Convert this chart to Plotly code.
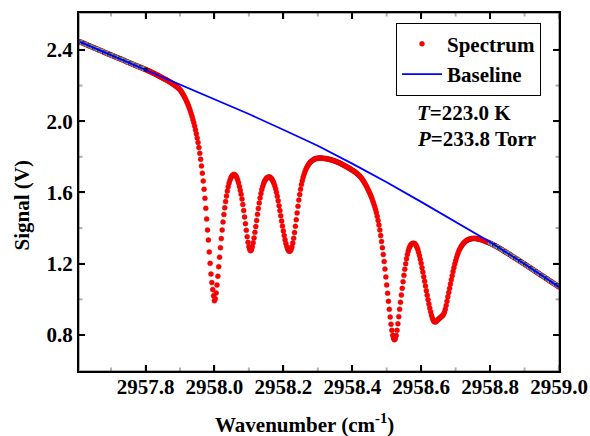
import numpy as np
import plotly.graph_objects as go

# ---------------- data ----------------
WN_START = 2957.61      # first wavenumber sample (cm-1)
WN_STEP = 0.0025        # sampling step (cm-1)

# Spectrum signal (V), consecutive samples, split by region
sig_2957_6 = [2.445, 2.443, 2.441, 2.439, 2.437, 2.435, 2.433, 2.431, 2.429, 2.426,
              2.424, 2.422, 2.420, 2.418, 2.416, 2.414, 2.412, 2.410, 2.408, 2.406,
              2.404, 2.402, 2.400, 2.398, 2.396, 2.394, 2.392, 2.390, 2.387, 2.385,
              2.383, 2.381, 2.379, 2.377, 2.375, 2.373, 2.371, 2.369, 2.367, 2.365,
              2.363, 2.361, 2.359, 2.357, 2.355, 2.353, 2.351, 2.349, 2.347, 2.345,
              2.343, 2.341, 2.339, 2.336, 2.334, 2.332, 2.330, 2.328, 2.326, 2.324,
              2.322, 2.320, 2.318, 2.316, 2.314, 2.312, 2.310, 2.308, 2.306, 2.304,
              2.302, 2.300, 2.298, 2.296, 2.294, 2.292, 2.290]
sig_2957_8 = [2.288, 2.286, 2.283, 2.281, 2.279, 2.277, 2.274, 2.272, 2.270, 2.268,
              2.265, 2.263, 2.260, 2.258, 2.255, 2.252, 2.250, 2.247, 2.245, 2.242,
              2.240, 2.237, 2.235, 2.232, 2.229, 2.227, 2.224, 2.221, 2.218, 2.215,
              2.211, 2.208, 2.205, 2.201, 2.198, 2.194, 2.190, 2.186, 2.182, 2.177,
              2.170, 2.163, 2.155, 2.147, 2.138, 2.129, 2.119, 2.108, 2.097, 2.085,
              2.072, 2.058, 2.043, 2.027, 2.010, 1.992, 1.973, 1.952, 1.930, 1.906,
              1.880, 1.852, 1.820, 1.786, 1.749, 1.708, 1.664, 1.618, 1.567, 1.511,
              1.451, 1.389, 1.333, 1.266, 1.202, 1.142, 1.094, 1.055, 1.020, 0.992]
sig_2958_0 = [1.004, 1.036, 1.080, 1.130, 1.183, 1.237, 1.290, 1.341, 1.389, 1.434,
              1.476, 1.514, 1.549, 1.580, 1.608, 1.632, 1.652, 1.668, 1.681, 1.690,
              1.696, 1.700, 1.701, 1.698, 1.692, 1.683, 1.670, 1.654, 1.634, 1.612,
              1.590, 1.563, 1.532, 1.498, 1.462, 1.425, 1.388, 1.352, 1.320, 1.295,
              1.280, 1.273, 1.279, 1.295, 1.318, 1.345, 1.376, 1.409, 1.443, 1.477,
              1.510, 1.541, 1.569, 1.594, 1.616, 1.634, 1.649, 1.661, 1.670, 1.677,
              1.682, 1.685, 1.686, 1.686, 1.684, 1.679, 1.672, 1.663, 1.652, 1.638,
              1.621, 1.601, 1.578, 1.553, 1.526, 1.498, 1.469, 1.440, 1.411, 1.384]
sig_2958_2 = [1.358, 1.334, 1.313, 1.296, 1.283, 1.274, 1.270, 1.272, 1.280, 1.295,
              1.316, 1.343, 1.375, 1.410, 1.447, 1.485, 1.522, 1.557, 1.589, 1.618,
              1.644, 1.666, 1.685, 1.701, 1.715, 1.727, 1.738, 1.747, 1.755, 1.762,
              1.768, 1.773, 1.777, 1.781, 1.784, 1.787, 1.789, 1.790, 1.791, 1.792,
              1.793, 1.793, 1.793, 1.793, 1.792, 1.792, 1.791, 1.790, 1.790, 1.789,
              1.788, 1.787, 1.786, 1.785, 1.784, 1.782, 1.781, 1.779, 1.778, 1.776,
              1.774, 1.772, 1.770, 1.768, 1.766, 1.763, 1.761, 1.758, 1.756, 1.753,
              1.751, 1.748, 1.745, 1.743, 1.740, 1.737, 1.734, 1.731, 1.728, 1.725]
sig_2958_4 = [1.722, 1.719, 1.716, 1.712, 1.708, 1.704, 1.700, 1.695, 1.690, 1.684,
              1.678, 1.671, 1.664, 1.656, 1.648, 1.639, 1.630, 1.620, 1.610, 1.600,
              1.589, 1.577, 1.564, 1.550, 1.536, 1.521, 1.505, 1.487, 1.466, 1.443,
              1.417, 1.389, 1.358, 1.325, 1.290, 1.252, 1.212, 1.170, 1.126, 1.081,
              1.035, 0.989, 0.944, 0.901, 0.861, 0.826, 0.798, 0.780, 0.773, 0.779,
              0.797, 0.826, 0.863, 0.903, 0.944, 0.984, 1.024, 1.062, 1.099, 1.135,
              1.169, 1.200, 1.228, 1.252, 1.271, 1.287, 1.298, 1.306, 1.311, 1.314,
              1.315, 1.314, 1.311, 1.304, 1.294, 1.281, 1.265, 1.246, 1.225, 1.202]
sig_2958_6 = [1.178, 1.153, 1.127, 1.101, 1.075, 1.049, 1.023, 0.998, 0.974, 0.951,
              0.930, 0.911, 0.895, 0.883, 0.876, 0.873, 0.874, 0.878, 0.883, 0.888,
              0.893, 0.897, 0.901, 0.905, 0.910, 0.917, 0.928, 0.945, 0.966, 0.990,
              1.014, 1.038, 1.062, 1.086, 1.110, 1.133, 1.156, 1.178, 1.198, 1.217,
              1.234, 1.249, 1.262, 1.274, 1.284, 1.293, 1.301, 1.308, 1.314, 1.319,
              1.324, 1.328, 1.331, 1.334, 1.336, 1.338, 1.339, 1.340, 1.341, 1.342,
              1.342, 1.342, 1.342, 1.341, 1.340, 1.339, 1.338, 1.337, 1.336, 1.334,
              1.333, 1.331, 1.329, 1.327, 1.325, 1.323, 1.321, 1.319, 1.317, 1.315]
sig_2958_8 = [1.313, 1.310, 1.308, 1.305, 1.303, 1.300, 1.298, 1.295, 1.292, 1.290,
              1.287, 1.284, 1.281, 1.278, 1.275, 1.272, 1.269, 1.266, 1.263, 1.260,
              1.257, 1.254, 1.251, 1.248, 1.245, 1.241, 1.238, 1.235, 1.232, 1.229,
              1.226, 1.223, 1.220, 1.217, 1.214, 1.210, 1.207, 1.204, 1.201, 1.198,
              1.195, 1.192, 1.188, 1.185, 1.182, 1.179, 1.176, 1.172, 1.169, 1.166,
              1.163, 1.160, 1.156, 1.153, 1.150, 1.147, 1.144, 1.140, 1.137, 1.134,
              1.131, 1.128, 1.124, 1.121, 1.118, 1.115, 1.112, 1.108, 1.105, 1.102,
              1.099, 1.096, 1.092, 1.089, 1.086, 1.083, 1.080, 1.076, 1.073, 1.070]

# Baseline (V)
baseline_wn = [2957.61, 2957.7, 2957.8, 2957.9, 2958.0, 2958.1, 2958.2, 2958.3,
               2958.4, 2958.5, 2958.6, 2958.7, 2958.8, 2958.9, 2959.0]
baseline_v = [2.445, 2.371, 2.290, 2.208, 2.125, 2.040, 1.952, 1.862,
              1.762, 1.657, 1.547, 1.435, 1.322, 1.198, 1.070]

# Axis ticks
x_major = [2957.8, 2958.0, 2958.2, 2958.4, 2958.6, 2958.8, 2959.0]
x_minor = [2957.7, 2957.9, 2958.1, 2958.3, 2958.5, 2958.7, 2958.9]
y_major = [0.8, 1.2, 1.6, 2.0, 2.4]
y_minor = [1.0, 1.4, 1.8, 2.2]

# ---------------- build ----------------
signal = np.array(sig_2957_6 + sig_2957_8 + sig_2958_0 + sig_2958_2 +
                  sig_2958_4 + sig_2958_6 + sig_2958_8)
wn = WN_START + WN_STEP * np.arange(len(signal))

fit_mask = (wn <= 2957.80) | (wn >= 2958.80)
fit_colors_cycle = ['#00b000', '#ff00ff', '#00c8c8', '#c8c800', '#000000', '#8080ff']
fx = wn[fit_mask]
fy = signal[fit_mask]
fc = [fit_colors_cycle[k % len(fit_colors_cycle)] for k in range(len(fx))]

FONT = "Liberation Serif"
W, H = 590, 436
ML, MR, MT, MB = 79, 31, 13, 65
PW, PH = W - ML - MR, H - MT - MB

fig = go.Figure()
fig.add_trace(go.Scatter(
    x=wn, y=signal, mode="markers", name="Spectrum",
    marker=dict(color="#ff0000", size=5, line=dict(width=0.4, color="#d00000")),
))
fig.add_trace(go.Scatter(
    x=fx, y=fy, mode="markers", showlegend=False, hoverinfo="skip",
    marker=dict(color=fc, size=4.5, line=dict(width=0)),
))
fig.add_trace(go.Scatter(
    x=baseline_wn, y=baseline_v, mode="lines", name="Baseline",
    line=dict(color="#0000ff", width=1.8),
))

tick_font = dict(family=FONT, size=21, color="black", weight="bold")

fig.update_layout(
    template="simple_white",
    width=W, height=H,
    margin=dict(l=ML, r=MR, t=MT, b=MB),
    paper_bgcolor="white", plot_bgcolor="white",
    xaxis=dict(range=[2957.607, 2959.0], tickvals=x_major, tickformat=".1f",
               ticks="inside", ticklen=6, tickwidth=2, tickcolor="black",
               showline=True, linewidth=2, linecolor="black", mirror="ticks",
               showgrid=False, zeroline=False, automargin=False, tickfont=tick_font,
               ticklabelstandoff=-4),
    yaxis=dict(range=[0.598, 2.607], tickvals=y_major, tickformat=".1f",
               ticks="inside", ticklen=6, tickwidth=2, tickcolor="black",
               showline=True, linewidth=2, linecolor="black", mirror="ticks",
               showgrid=False, zeroline=False, automargin=False, tickfont=tick_font),
    legend=dict(x=0.9625, y=0.973, xanchor="right", yanchor="top",
                bordercolor="black", borderwidth=1, bgcolor="white",
                font=dict(family=FONT, size=21, color="black", weight="bold"),
                tracegroupgap=0, itemwidth=40),
    showlegend=True,
)

# tick marks on all four sides (inside), drawn at the axis tick values
tick_line = dict(color="black", width=2)
shapes = []
for vals, ln in ((x_major, 6.0), (x_minor, 3.5)):
    for v in vals:
        shapes.append(dict(type="line", xref="x", yref="paper", x0=v, x1=v,
                           y0=0, y1=ln / PH, line=tick_line))
        shapes.append(dict(type="line", xref="x", yref="paper", x0=v, x1=v,
                           y0=1, y1=1 - ln / PH, line=tick_line))
for vals, ln in ((y_major, 6.0), (y_minor, 3.5)):
    for v in vals:
        shapes.append(dict(type="line", xref="paper", yref="y", y0=v, y1=v,
                           x0=0, x1=ln / PW, line=tick_line))
        shapes.append(dict(type="line", xref="paper", yref="y", y0=v, y1=v,
                           x0=1, x1=1 - ln / PW, line=tick_line))
shapes.append(dict(type="rect", xref="paper", yref="paper", x0=0, x1=1, y0=0, y1=1,
                   line=dict(color="black", width=2), fillcolor="rgba(0,0,0,0)"))
fig.update_layout(shapes=shapes)

ann_font = dict(family=FONT, size=21, color="black", weight="bold")
fig.add_annotation(xref="paper", yref="paper", x=0.47, y=-0.146,
                   text="Wavenumber (cm<sup>-1</sup>)", showarrow=False,
                   xanchor="center", yanchor="middle", font=ann_font)
fig.add_annotation(xref="paper", yref="paper", x=-0.119, y=0.462,
                   text="Signal (V)", textangle=-90, showarrow=False,
                   xanchor="center", yanchor="middle", font=ann_font)
fig.add_annotation(xref="paper", yref="paper", x=0.700, y=0.722,
                   text="<i>T</i>=223.0 K", showarrow=False,
                   xanchor="left", yanchor="middle", font=ann_font)
fig.add_annotation(xref="paper", yref="paper", x=0.700, y=0.647,
                   text="<i>P</i>=233.8 Torr", showarrow=False,
                   xanchor="left", yanchor="middle", font=ann_font)

fig.write_html("out.html", config={"displayModeBar": False},
               post_script="document.body.style.margin='0px';document.body.style.padding='0px';")
